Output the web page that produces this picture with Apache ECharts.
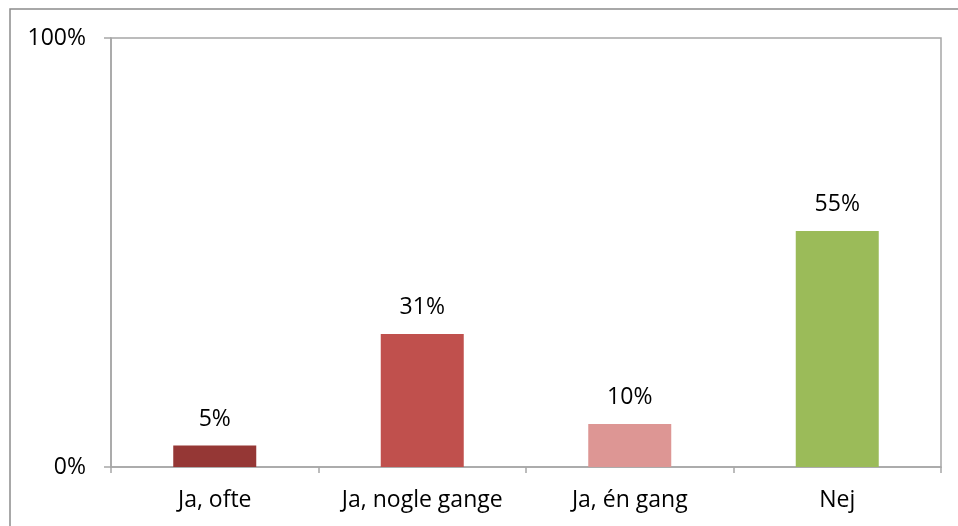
<!DOCTYPE html>
<html lang="da">
<head>
<meta charset="UTF-8">
<title>Chart</title>
<script src="https://cdn.jsdelivr.net/npm/echarts@6/dist/echarts.min.js"></script>
<style>
  html, body { margin: 0; padding: 0; background: #fff; }
  #main { width: 958px; height: 526px; }
</style>
</head>
<body>
<div id="main"></div>
<script>
var categories = ['Ja, ofte', 'Ja, nogle gange', 'Ja, én gang', 'Nej'];
var values = [0.05, 0.31, 0.10, 0.55];
var barColors = ['#953735', '#C0504D', '#DD9694', '#9BBB59'];

var chart = echarts.init(document.getElementById('main'));
var font = '"Open Sans", Lato, sans-serif';

var option = {
  animation: false,
  backgroundColor: '#fff',
  graphic: [{
    type: 'rect',
    shape: { x: 10, y: 9, width: 960, height: 540 },
    style: { fill: 'none', stroke: '#8c8c8c', lineWidth: 1.5 },
    silent: true
  }],
  grid: {
    left: 111, right: 17, top: 38, bottom: 59,
    show: true,
    borderColor: '#a6a6a6',
    borderWidth: 1.5
  },
  xAxis: {
    type: 'category',
    data: categories,
    axisLine: { lineStyle: { color: '#a6a6a6', width: 1.5 } },
    axisTick: { show: true, length: 6, lineStyle: { color: '#a6a6a6', width: 1.5 } },
    axisLabel: { color: '#000', fontFamily: font, fontSize: 23, margin: 22, interval: 0 }
  },
  yAxis: {
    type: 'value',
    min: 0, max: 1, interval: 1,
    splitLine: { show: false },
    axisLine: { show: true, lineStyle: { color: '#a6a6a6', width: 1.5 } },
    axisTick: { show: true, length: 7, lineStyle: { color: '#a6a6a6', width: 1.5 } },
    axisLabel: {
      color: '#000', fontFamily: font, fontSize: 23, margin: 25,
      formatter: function (v) { return Math.round(v * 100) + '%'; }
    }
  },
  series: [{
    type: 'bar',
    barWidth: 83,
    data: values.map(function (v, i) {
      return { value: v, itemStyle: { color: barColors[i] } };
    }),
    label: {
      show: true,
      position: 'top',
      distance: 15,
      color: '#000',
      fontFamily: font,
      fontSize: 23,
      formatter: function (p) { return Math.round(p.value * 100) + '%'; }
    }
  }]
};

chart.setOption(option);
</script>
</body>
</html>
